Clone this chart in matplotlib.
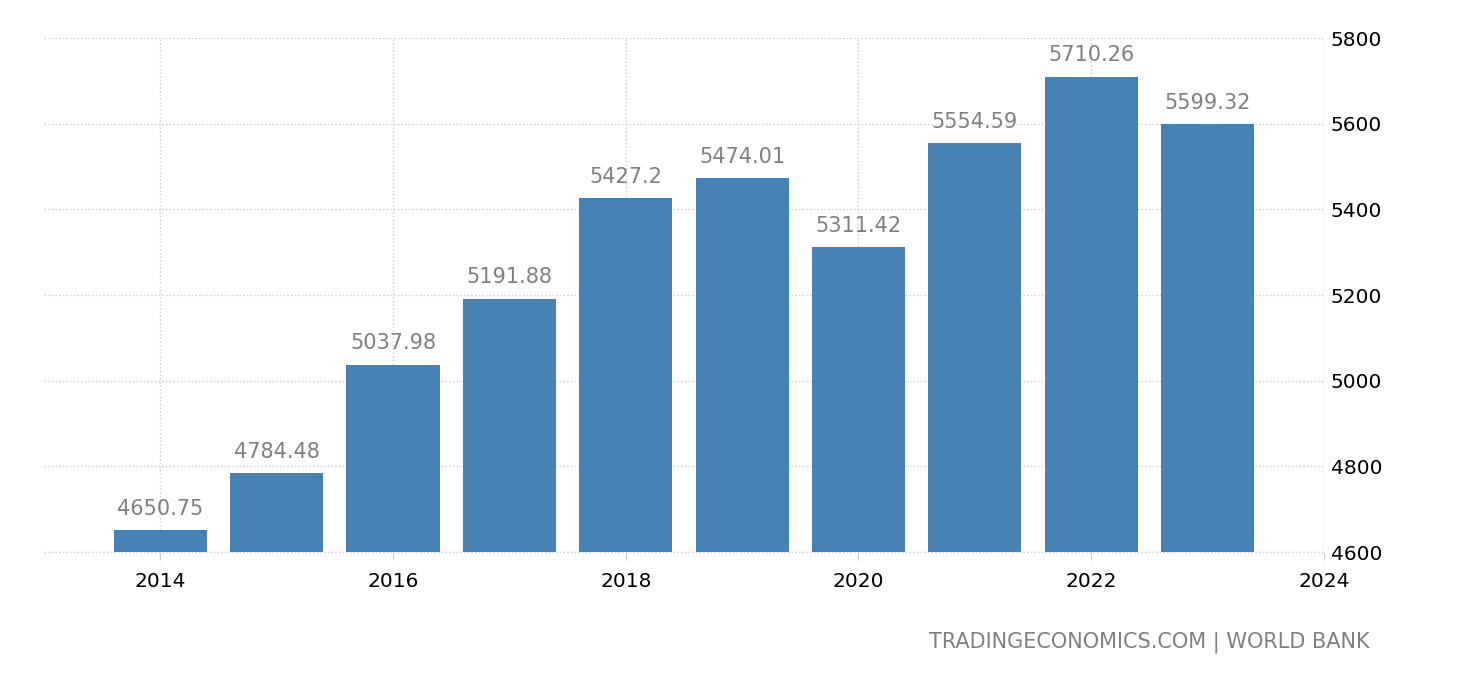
import matplotlib.pyplot as plt
from matplotlib.ticker import MultipleLocator

years = [2014, 2015, 2016, 2017, 2018, 2019, 2020, 2021, 2022, 2023]
values = [4650.75, 4784.48, 5037.98, 5191.88, 5427.2, 5474.01, 5311.42, 5554.59, 5710.26, 5599.32]
labels = ['4650.75', '4784.48', '5037.98', '5191.88', '5427.2', '5474.01', '5311.42', '5554.59', '5710.26', '5599.32']

fig = plt.figure(figsize=(14.6, 6.8), dpi=100)
ax = fig.add_axes([0.0301, 0.188, 0.8767, 0.756])

ax.bar(years, [v - 4600 for v in values], bottom=4600, width=0.8, color='#4682b4', zorder=2)

for x, v, t in zip(years, values, labels):
    ax.annotate(t, (x, v), xytext=(0, 8), textcoords='offset points',
                ha='center', va='bottom', fontsize=15, color='#808080')

ax.set_xlim(2013, 2024)
ax.set_ylim(4600, 5800)
ax.xaxis.set_major_locator(MultipleLocator(2))
ax.yaxis.set_major_locator(MultipleLocator(200))

ax.yaxis.tick_right()
ax.tick_params(axis='y', length=0, labelsize=14.5, pad=5)
ax.tick_params(axis='x', length=6, color='#cccccc', labelsize=14.5, pad=8)

ax.grid(True, color='#cccccc', linestyle=':', linewidth=1, zorder=0)
for s in ax.spines.values():
    s.set_visible(False)
ax.axvline(2024, color='#cccccc', linestyle=':', linewidth=1, zorder=0)
ax.axhline(4600, color='#cccccc', linestyle=':', linewidth=1, zorder=1, clip_on=False)

fig.text(0.938, 0.055, 'TRADINGECONOMICS.COM | WORLD BANK', ha='right', va='center',
         fontsize=15, color='#808080')

fig.savefig('out.png', dpi=100)
